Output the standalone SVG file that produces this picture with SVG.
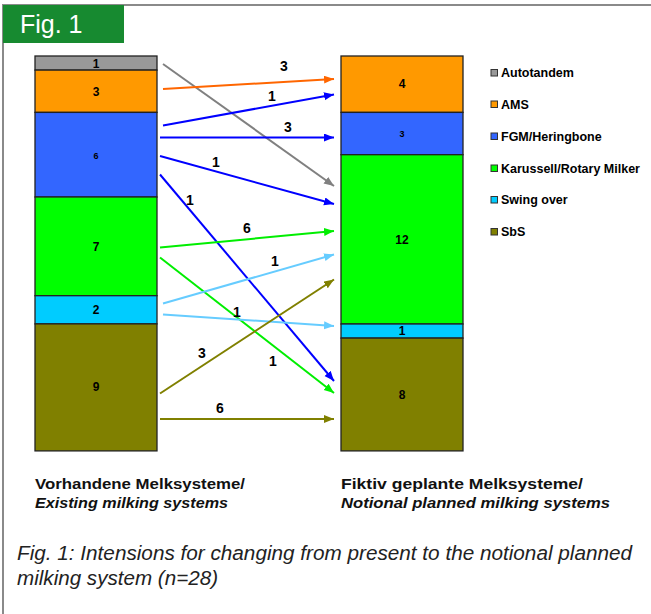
<svg xmlns="http://www.w3.org/2000/svg" width="651" height="614" viewBox="0 0 651 614">
<style>
.frame{fill:none;stroke:#8a8a8a;stroke-width:2}
.seg{stroke:#222;stroke-width:1.3}
.num{font-family:"Liberation Sans",Arial,sans-serif;font-weight:bold;font-size:12px;fill:#000;text-anchor:middle;dominant-baseline:central}
.sm{font-size:9px}
.lbl{font-family:"Liberation Sans",Arial,sans-serif;font-weight:bold;font-size:14px;fill:#000;text-anchor:middle;dominant-baseline:central}
.leg{font-family:"Liberation Sans",Arial,sans-serif;font-weight:bold;font-size:12.5px;fill:#000;dominant-baseline:central}
.sq{stroke:#333;stroke-width:1}
.cap{font-family:"Liberation Sans Narrow","Liberation Sans",Arial,sans-serif;font-weight:bold;font-size:15px;fill:#111}
.capi{font-family:"Liberation Sans Narrow","Liberation Sans",Arial,sans-serif;font-style:italic;font-size:20px;fill:#222}
.ar{fill:none;stroke-width:2}
</style>
<defs>
<marker id="mGray" markerUnits="userSpaceOnUse" markerWidth="11" markerHeight="9" refX="10" refY="4" orient="auto"><path d="M0,0 L10,4 L0,8 z" fill="#808080"/></marker>
<marker id="mOrange" markerUnits="userSpaceOnUse" markerWidth="11" markerHeight="9" refX="10" refY="4" orient="auto"><path d="M0,0 L10,4 L0,8 z" fill="#FF6600"/></marker>
<marker id="mBlue" markerUnits="userSpaceOnUse" markerWidth="11" markerHeight="9" refX="10" refY="4" orient="auto"><path d="M0,0 L10,4 L0,8 z" fill="#0000FF"/></marker>
<marker id="mGreen" markerUnits="userSpaceOnUse" markerWidth="11" markerHeight="9" refX="10" refY="4" orient="auto"><path d="M0,0 L10,4 L0,8 z" fill="#00EE00"/></marker>
<marker id="mLBlue" markerUnits="userSpaceOnUse" markerWidth="11" markerHeight="9" refX="10" refY="4" orient="auto"><path d="M0,0 L10,4 L0,8 z" fill="#66CCFF"/></marker>
<marker id="mOlive" markerUnits="userSpaceOnUse" markerWidth="11" markerHeight="9" refX="10" refY="4" orient="auto"><path d="M0,0 L10,4 L0,8 z" fill="#808000"/></marker>
</defs>
<rect width="651" height="614" fill="#fff"/>
<path class="frame" d="M3,614 L3,5 L651,5"/>
<g id="header">
<rect x="3" y="5" width="121" height="38" fill="#178a30"/>
<text x="20" y="33" font-family="Liberation Sans Narrow,Liberation Sans,Arial,sans-serif" font-size="25" fill="#fff">Fig. 1</text>
</g>
<g id="left-bar">
<rect class="seg" x="35" y="56" width="122" height="14.1" fill="#999999"/>
<rect class="seg" x="35" y="70.1" width="122" height="42.3" fill="#FF9900"/>
<rect class="seg" x="35" y="112.4" width="122" height="84.6" fill="#3366FF"/>
<rect class="seg" x="35" y="197" width="122" height="98.7" fill="#00FF00"/>
<rect class="seg" x="35" y="295.7" width="122" height="28.2" fill="#00CCFF"/>
<rect class="seg" x="35" y="323.9" width="122" height="127" fill="#808000"/>
<text class="num" x="96" y="63.5">1</text>
<text class="num" x="96" y="91.7">3</text>
<text class="num sm" x="96" y="156">6</text>
<text class="num" x="96" y="246.5">7</text>
<text class="num" x="96" y="310">2</text>
<text class="num" x="96" y="387">9</text>
</g>
<g id="right-bar">
<rect class="seg" x="341" y="56" width="122" height="56.4" fill="#FF9900"/>
<rect class="seg" x="341" y="112.4" width="122" height="42.3" fill="#3366FF"/>
<rect class="seg" x="341" y="154.7" width="122" height="169.3" fill="#00FF00"/>
<rect class="seg" x="341" y="324" width="122" height="14.1" fill="#00CCFF"/>
<rect class="seg" x="341" y="338.1" width="122" height="112.8" fill="#808000"/>
<text class="num" x="402" y="84.3">4</text>
<text class="num sm" x="402" y="134">3</text>
<text class="num" x="402" y="239.5">12</text>
<text class="num" x="402" y="331">1</text>
<text class="num" x="402" y="394.5">8</text>
</g>
<g id="connectors">
<line class="ar" x1="163" y1="64" x2="334" y2="186" stroke="#808080" marker-end="url(#mGray)"/>
<line class="ar" x1="163" y1="89" x2="334" y2="79" stroke="#FF6600" marker-end="url(#mOrange)"/>
<line class="ar" x1="163" y1="125.5" x2="334" y2="94.5" stroke="#0000FF" marker-end="url(#mBlue)"/>
<line class="ar" x1="160" y1="137.5" x2="334" y2="137.5" stroke="#0000FF" marker-end="url(#mBlue)"/>
<line class="ar" x1="160" y1="156" x2="334" y2="204" stroke="#0000FF" marker-end="url(#mBlue)"/>
<line class="ar" x1="160" y1="174.5" x2="334" y2="381" stroke="#0000FF" marker-end="url(#mBlue)"/>
<line class="ar" x1="160" y1="247.5" x2="334" y2="231" stroke="#00EE00" marker-end="url(#mGreen)"/>
<line class="ar" x1="160" y1="257.5" x2="334" y2="393" stroke="#00EE00" marker-end="url(#mGreen)"/>
<line class="ar" x1="163" y1="303.5" x2="334" y2="254.5" stroke="#66CCFF" marker-end="url(#mLBlue)"/>
<line class="ar" x1="163" y1="314.5" x2="334" y2="326" stroke="#66CCFF" marker-end="url(#mLBlue)"/>
<line class="ar" x1="160" y1="393.5" x2="334" y2="279.5" stroke="#808000" marker-end="url(#mOlive)"/>
<line class="ar" x1="160" y1="419" x2="334" y2="419" stroke="#808000" marker-end="url(#mOlive)"/>
<text class="lbl" x="284" y="66">3</text>
<text class="lbl" x="272" y="96">1</text>
<text class="lbl" x="288" y="127">3</text>
<text class="lbl" x="216" y="162">1</text>
<text class="lbl" x="190" y="200">1</text>
<text class="lbl" x="247" y="228">6</text>
<text class="lbl" x="275" y="261">1</text>
<text class="lbl" x="237" y="312">1</text>
<text class="lbl" x="202" y="353">3</text>
<text class="lbl" x="273" y="361">1</text>
<text class="lbl" x="220" y="408">6</text>
</g>
<g id="legend">
<rect class="sq" x="491" y="69.5" width="6.5" height="6.5" fill="#999999"/>
<text class="leg" x="501" y="73">Autotandem</text>
<rect class="sq" x="491" y="101" width="6.5" height="6.5" fill="#FF9900"/>
<text class="leg" x="501" y="104.5">AMS</text>
<rect class="sq" x="491" y="133" width="6.5" height="6.5" fill="#3366FF"/>
<text class="leg" x="501" y="136.5">FGM/Heringbone</text>
<rect class="sq" x="491" y="165" width="6.5" height="6.5" fill="#00FF00"/>
<text class="leg" x="501" y="168.5">Karussell/Rotary Milker</text>
<rect class="sq" x="491" y="196.5" width="6.5" height="6.5" fill="#00CCFF"/>
<text class="leg" x="501" y="200">Swing over</text>
<rect class="sq" x="491" y="228.5" width="6.5" height="6.5" fill="#808000"/>
<text class="leg" x="501" y="232">SbS</text>
</g>
<g id="axis-labels">
<text class="cap" x="35" y="489" textLength="210" lengthAdjust="spacingAndGlyphs">Vorhandene Melksysteme/</text>
<text class="cap" x="35" y="508" font-style="italic" textLength="193" lengthAdjust="spacingAndGlyphs">Existing milking systems</text>
<text class="cap" x="341" y="489" textLength="242" lengthAdjust="spacingAndGlyphs">Fiktiv geplante Melksysteme/</text>
<text class="cap" x="341" y="508" font-style="italic" textLength="269" lengthAdjust="spacingAndGlyphs">Notional planned milking systems</text>
</g>
<g id="caption">
<text class="capi" x="17" y="560" textLength="615" lengthAdjust="spacingAndGlyphs">Fig. 1: Intensions for changing from present to the notional planned</text>
<text class="capi" x="17" y="585" textLength="201" lengthAdjust="spacingAndGlyphs">milking system (n=28)</text>
</g>
</svg>
